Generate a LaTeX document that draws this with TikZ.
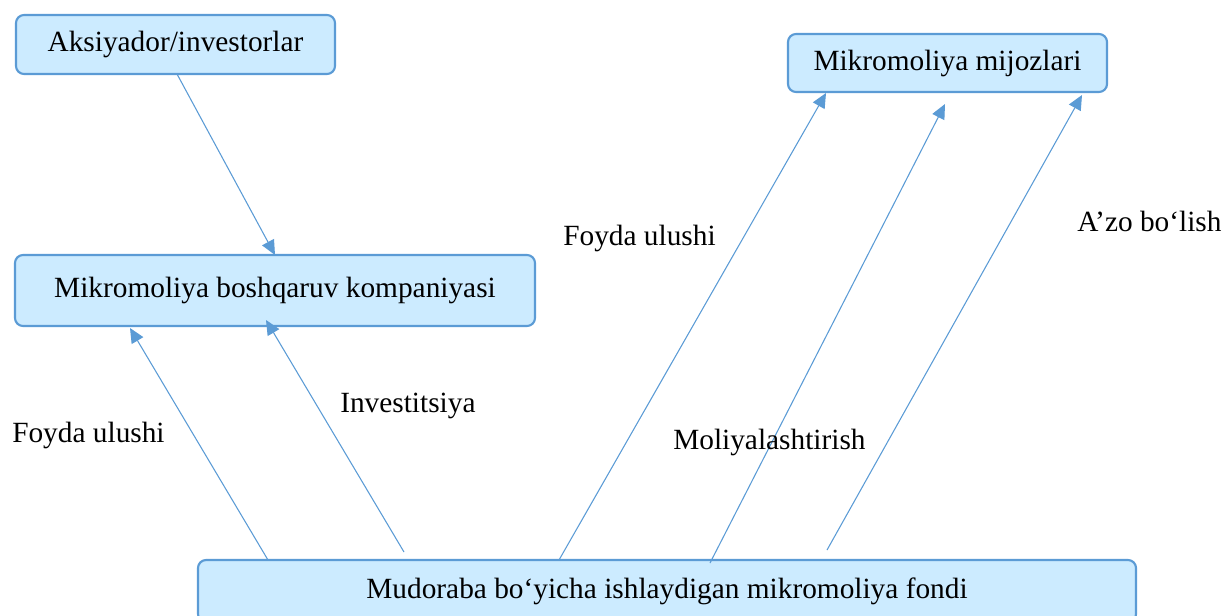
\documentclass[tikz,border=0pt]{standalone}
\usepackage{fontspec}
\setmainfont{Liberation Serif}
\usetikzlibrary{arrows.meta}
\definecolor{lineblue}{HTML}{5B9BD5}
\definecolor{boxfill}{HTML}{CCEBFF}
\begin{document}
\begin{tikzpicture}[x=0.75pt,y=-0.75pt,
  box/.style={draw=lineblue, fill=boxfill, line width=1.6pt, rounded corners=6pt,
    font=\fontsize{22pt}{26pt}\selectfont, inner sep=0pt, align=center},
  lbl/.style={font=\fontsize{22pt}{26pt}\selectfont, inner sep=0pt, anchor=west},
  conn/.style={draw=lineblue, line width=0.8pt, -{Triangle[length=11pt,width=10pt]}}]
\useasboundingbox (0,0) rectangle (1226,615);
\clip (0,0) rectangle (1226,615);
% boxes
\node[box, minimum width=239.25pt, minimum height=44.25pt] (A) at (175.5,44.5) {Aksiyador/investorlar};
\node[box, minimum width=390pt, minimum height=53.25pt] (B) at (275,290.5) {Mikromoliya boshqaruv kompaniyasi};
\node[box, minimum width=239.25pt, minimum height=43.5pt] (C) at (947.5,63) {Mikromoliya mijozlari};
\node[box, minimum width=703.5pt, minimum height=46.5pt] (D) at (667,591) {Mudoraba bo‘yicha ishlaydigan mikromoliya fondi};
% connector end points
\coordinate (a1) at (177,74);
\coordinate (b1) at (275,255);
\coordinate (d2) at (268,560);
\coordinate (b2) at (130,328);
\coordinate (d3) at (404,552);
\coordinate (b3) at (266,320);
\coordinate (d4) at (559,560);
\coordinate (c4) at (826,93);
\coordinate (d5) at (710,563);
\coordinate (c5) at (945,104);
\coordinate (d6) at (827,550);
\coordinate (c6) at (1082,95);
% connectors
\draw[conn] (a1) -- (b1);
\draw[conn] (d2) -- (b2);
\draw[conn] (d3) -- (b3);
\draw[conn] (d4) -- (c4);
\draw[conn] (d5) -- (c5);
\draw[conn] (d6) -- (c6);
% labels
\node[lbl] (l1) at (12,435) {Foyda ulushi};
\node[lbl] (l2) at (340,406) {Investitsiya};
\node[lbl] (l3) at (563,238) {Foyda ulushi};
\node[lbl] (l4) at (673,442) {Moliyalashtirish};
\node[lbl] (l5) at (1077,221) {A’zo bo‘lish};
\end{tikzpicture}
\end{document}
